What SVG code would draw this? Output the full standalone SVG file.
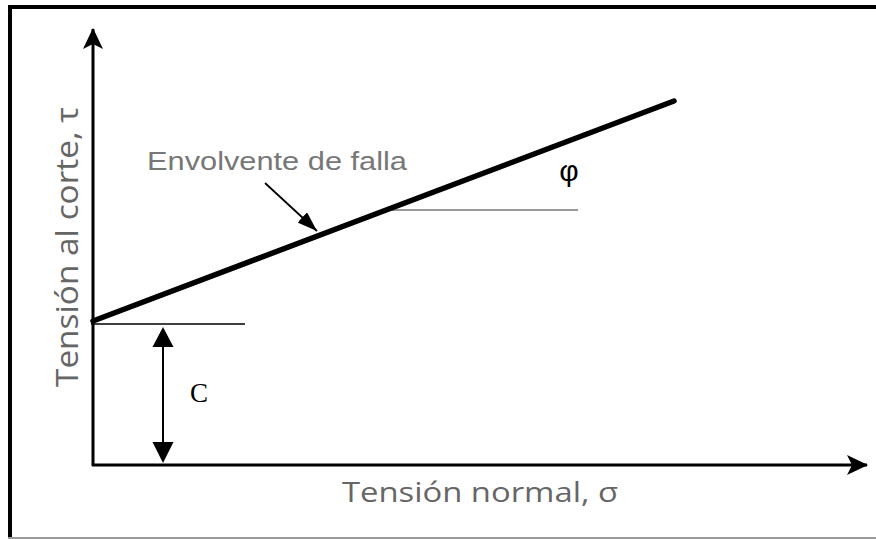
<svg xmlns="http://www.w3.org/2000/svg" width="876" height="539" viewBox="0 0 876 539">
<style>
.axis{stroke:#000;stroke-width:3;fill:none}
.lbl{font-family:"Open Sans","Liberation Sans",sans-serif;fill:#666;font-size:27px}
</style>
<defs>
<marker id="big" markerWidth="22" markerHeight="22" refX="20" refY="11" orient="auto" markerUnits="userSpaceOnUse" viewBox="0 0 22 22">
<path d="M0,1 L21,11 L0,21 L5,11 Z" fill="#000"/>
</marker>
<marker id="tri" markerWidth="20" markerHeight="14" refX="20" refY="7" orient="auto" markerUnits="userSpaceOnUse" viewBox="0 0 20 14">
<path d="M0,0 L20,7 L0,14 Z" fill="#000"/>
</marker>
</defs>
<rect width="876" height="539" fill="#fff"/>
<g id="frame">
<line x1="8" y1="7" x2="876" y2="7" stroke="#000" stroke-width="4"/>
<line x1="10" y1="5" x2="10" y2="538" stroke="#000" stroke-width="4"/>
<line x1="8" y1="538" x2="876" y2="538" stroke="#999" stroke-width="2"/>
</g>
<g id="connectors">
<line id="yaxis" class="axis" x1="93" y1="466" x2="93" y2="29" marker-end="url(#big)"/>
<line id="xaxis" class="axis" x1="92" y1="465" x2="867" y2="465" marker-end="url(#big)"/>
<line x1="91" y1="324" x2="245" y2="324" stroke="#000" stroke-width="1.5"/>
<line x1="382" y1="210" x2="578" y2="210" stroke="#999" stroke-width="2"/>
<line x1="163" y1="345" x2="163" y2="445" stroke="#000" stroke-width="2"/>
<path d="M163,327 L152.5,347 L173.5,347 Z" fill="#000"/>
<path d="M163,463 L152.5,442 L173.5,442 Z" fill="#000"/>
<line x1="265" y1="183" x2="317" y2="231" stroke="#000" stroke-width="1.8" marker-end="url(#tri)"/>
</g>
<g id="envelope">
<line x1="93" y1="321" x2="674" y2="101" stroke="#000" stroke-width="5.5" stroke-linecap="round"/>
</g>
<g id="labels">
<text x="147" y="170" font-family="Liberation Sans, Arial, sans-serif" font-size="26" fill="#777" textLength="260" lengthAdjust="spacingAndGlyphs">Envolvente  de falla</text>
<text x="569" y="181" text-anchor="middle" font-family="Liberation Sans, Arial, sans-serif" font-size="30" fill="#000">φ</text>
<text x="190" y="402" font-family="Liberation Serif, Times New Roman, serif" font-size="27" fill="#000">C</text>
<text class="lbl" x="342" y="502" textLength="276" lengthAdjust="spacingAndGlyphs">Tensión normal, σ</text>
<text class="lbl" transform="translate(78,247) scale(1.18,1) rotate(-90)" text-anchor="middle" textLength="280" lengthAdjust="spacingAndGlyphs">Tensión al corte, τ</text>
</g>
</svg>
